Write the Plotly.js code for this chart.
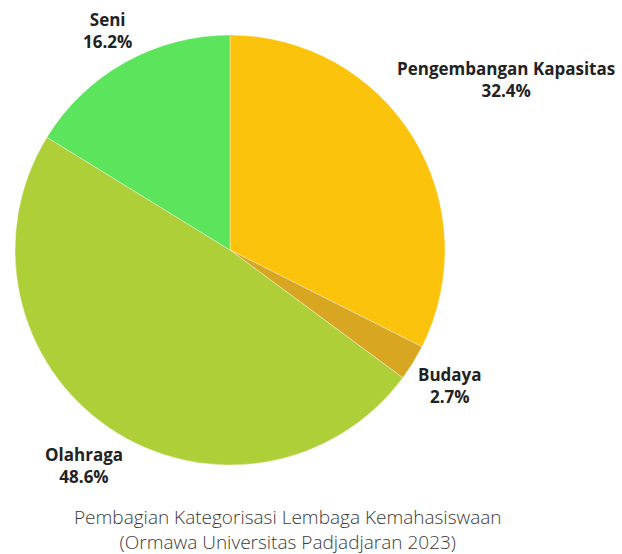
<!DOCTYPE html>
<html>
<head>
<meta charset="utf-8">
<script src="https://cdn.plot.ly/plotly-3.0.1.min.js"></script>
<style>html,body{margin:0;padding:0;background:#fff;}#chart{width:622px;height:554px;}</style>
</head>
<body>
<div id="chart"></div>
<script>
const categories = ["Pengembangan Kapasitas", "Budaya", "Olahraga", "Seni"];
const counts = [12, 1, 18, 6];
const colors = ["#FCC30C", "#D9A622", "#AFCF39", "#5BE45C"];
const captionLines = ["Pembagian Kategorisasi Lembaga Kemahasiswaan", "(Ormawa Universitas Padjadjaran 2023)"];

const W = 622, H = 554;
const pieLeft = 15, pieRight = 445, pieTop = 35, pieBottom = 465;
const labelSize = 17;
const labelFamily = "Open Sans";

const trace = {
  type: "pie",
  labels: categories,
  values: counts,
  sort: false,
  direction: "clockwise",
  rotation: 0,
  marker: {colors: colors, line: {color: "rgba(255,255,255,0.6)", width: 0.6}},
  textinfo: "none",
  hoverinfo: "label+percent",
  showlegend: false,
  automargin: false,
  domain: {x: [pieLeft / W, pieRight / W], y: [(H - pieBottom) / H, (H - pieTop) / H]}
};

// label placement: outside each slice along its mid-angle
const total = counts.reduce((a, b) => a + b, 0);
const cx = (pieLeft + pieRight) / 2, cy = (pieTop + pieBottom) / 2;
const R = Math.min(pieRight - pieLeft, pieBottom - pieTop) / 2;
const ctx = document.createElement("canvas").getContext("2d");
ctx.font = "bold " + labelSize + "px '" + labelFamily + "'";
let cum = 0;
const annotations = categories.map((cat, i) => {
  const pct = (counts[i] / total * 100).toFixed(1) + "%";
  const mid = (cum + counts[i] / 2) / total * 2 * Math.PI;
  cum += counts[i];
  const dx = Math.sin(mid), dy = -Math.cos(mid);
  const hw = Math.max(ctx.measureText(cat).width, ctx.measureText(pct).width) / 2;
  const hh = labelSize * 1.3;
  const d = R + hw * Math.abs(dx) + hh * Math.abs(dy) + 5;
  const px = cx + d * dx, py = cy + d * dy;
  return {
    text: "<b>" + cat + "</b><br><b>" + pct + "</b>",
    x: px / W, y: 1 - py / H, xref: "paper", yref: "paper",
    xanchor: "center", yanchor: "middle", showarrow: false, align: "center",
    font: {family: labelFamily, size: labelSize, color: "#222"}
  };
});
annotations.push({
  text: captionLines.join("<br>"),
  x: 288 / W, y: 1 - 529 / H, xref: "paper", yref: "paper",
  xanchor: "center", yanchor: "middle", showarrow: false, align: "center",
  font: {family: "Open Sans", size: 19, color: "#3a3a3a", weight: 300}
});

const layout = {
  width: W, height: H,
  margin: {l: 0, r: 0, t: 0, b: 0},
  paper_bgcolor: "#fff",
  showlegend: false,
  annotations: annotations
};
Plotly.newPlot("chart", [trace], layout, {staticPlot: true});
</script>
</body>
</html>
